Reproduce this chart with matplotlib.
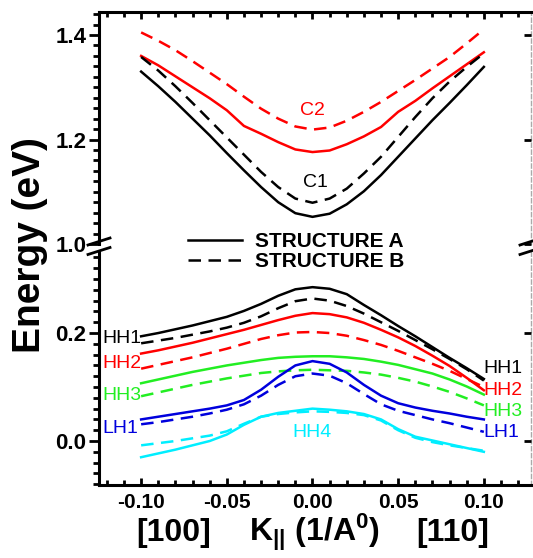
import numpy as np
import matplotlib
matplotlib.use("Agg")
import matplotlib.pyplot as plt
from matplotlib.lines import Line2D
from matplotlib.ticker import MultipleLocator, FixedLocator

plt.rcParams['font.family'] = ['Liberation Sans', 'DejaVu Sans']
plt.rcParams['mathtext.default'] = 'regular'

# in-plane wave vector (1/A), [100] on the left, [110] on the right
k = np.round(np.arange(-0.10, 0.1001, 0.01), 2)

# conduction subbands (eV)
c1_a = [1.330, 1.302, 1.272, 1.240, 1.208, 1.174, 1.141, 1.109, 1.080, 1.059, 1.052,
        1.058, 1.076, 1.101, 1.132, 1.167, 1.202, 1.237, 1.270, 1.304, 1.339]
c1_b = [1.358, 1.332, 1.302, 1.270, 1.237, 1.204, 1.171, 1.138, 1.109, 1.087, 1.079,
        1.087, 1.106, 1.135, 1.167, 1.205, 1.243, 1.279, 1.311, 1.339, 1.365]
c2_a = [1.360, 1.342, 1.321, 1.300, 1.279, 1.256, 1.226, 1.211, 1.195, 1.181, 1.176,
        1.179, 1.191, 1.206, 1.224, 1.253, 1.274, 1.298, 1.321, 1.344, 1.367]
c2_b = [1.405, 1.389, 1.371, 1.350, 1.328, 1.306, 1.282, 1.259, 1.240, 1.225, 1.219,
        1.223, 1.236, 1.253, 1.272, 1.293, 1.314, 1.336, 1.358, 1.384, 1.411]

# valence subbands (eV)
hh1_a = [0.194, 0.200, 0.207, 0.214, 0.222, 0.230, 0.241, 0.254, 0.269, 0.281, 0.285,
         0.282, 0.272, 0.252, 0.233, 0.213, 0.194, 0.174, 0.154, 0.135, 0.115]
hh1_b = [0.181, 0.186, 0.191, 0.197, 0.203, 0.210, 0.219, 0.231, 0.246, 0.259, 0.264,
         0.260, 0.250, 0.236, 0.220, 0.204, 0.187, 0.170, 0.152, 0.133, 0.112]
hh2_a = [0.162, 0.168, 0.175, 0.182, 0.190, 0.198, 0.206, 0.215, 0.224, 0.232, 0.237,
         0.235, 0.229, 0.219, 0.206, 0.192, 0.176, 0.158, 0.139, 0.117, 0.094]
hh2_b = [0.134, 0.141, 0.148, 0.155, 0.163, 0.171, 0.180, 0.189, 0.196, 0.201, 0.202,
         0.200, 0.195, 0.187, 0.178, 0.167, 0.155, 0.143, 0.130, 0.115, 0.100]
hh3_a = [0.107, 0.114, 0.121, 0.128, 0.134, 0.140, 0.145, 0.150, 0.154, 0.156, 0.157,
         0.157, 0.155, 0.152, 0.147, 0.141, 0.133, 0.125, 0.114, 0.101, 0.086]
hh3_b = [0.083, 0.090, 0.097, 0.104, 0.110, 0.116, 0.121, 0.126, 0.129, 0.131, 0.132,
         0.131, 0.130, 0.127, 0.123, 0.117, 0.110, 0.101, 0.091, 0.079, 0.066]
lh1_a = [0.040, 0.045, 0.050, 0.055, 0.060, 0.066, 0.076, 0.095, 0.119, 0.140, 0.148,
         0.143, 0.127, 0.104, 0.084, 0.070, 0.062, 0.056, 0.051, 0.045, 0.040]
lh1_b = [0.031, 0.035, 0.040, 0.045, 0.051, 0.058, 0.068, 0.084, 0.104, 0.120, 0.125,
         0.121, 0.107, 0.087, 0.068, 0.056, 0.048, 0.040, 0.033, 0.025, 0.017]
hh4_a = [-0.030, -0.023, -0.016, -0.008, 0.000, 0.012, 0.030, 0.045, 0.052, 0.056, 0.060,
         0.058, 0.055, 0.050, 0.040, 0.022, 0.008, 0.001, -0.006, -0.013, -0.020]
hh4_b = [-0.008, -0.004, 0.000, 0.005, 0.010, 0.018, 0.032, 0.045, 0.050, 0.053, 0.055,
         0.054, 0.052, 0.048, 0.038, 0.020, 0.006, -0.002, -0.008, -0.013, -0.018]

top_yticks = [1.0, 1.2, 1.4]
bot_yticks = [0.0, 0.2]
kticks = [-0.10, -0.05, 0.0, 0.05, 0.10]

RED = '#ff0000'
GREEN = '#22ee22'
BLUE = '#0000dd'
CYAN = '#00eeff'

LW = 1.8
DASH = (5, 3)

fig = plt.figure(figsize=(5.33, 5.58), dpi=100)
ax_top = fig.add_axes([0.1857, 0.5627, 0.8105, 0.4158])
ax_bot = fig.add_axes([0.1857, 0.1308, 0.8105, 0.4194])

# conduction band panel
ax_top.plot(k, c2_a, color=RED, lw=LW)
ax_top.plot(k, c2_b, color=RED, lw=LW, dashes=DASH)
ax_top.plot(k, c1_a, color='k', lw=LW, label='STRUCTURE A')
ax_top.plot(k, c1_b, color='k', lw=LW, dashes=DASH, label='STRUCTURE B')

# valence band panel
for ya, yb, c in [(hh1_a, hh1_b, 'k'), (hh2_a, hh2_b, RED), (hh3_a, hh3_b, GREEN),
                  (lh1_a, lh1_b, BLUE), (hh4_a, hh4_b, CYAN)]:
    ax_bot.plot(k, ya, color=c, lw=LW)
    ax_bot.plot(k, yb, color=c, lw=LW, dashes=DASH)

xlim = (-0.1246, 0.1275)
ax_top.set_xlim(*xlim)
ax_bot.set_xlim(*xlim)
ax_top.set_ylim(1.0, 1.4441)
ax_bot.set_ylim(-0.0815, 0.352)

for ax in (ax_top, ax_bot):
    ax.xaxis.set_major_locator(MultipleLocator(0.05))
    ax.xaxis.set_minor_locator(MultipleLocator(0.01))
    ax.yaxis.set_minor_locator(MultipleLocator(0.02))
    for s in ('left', 'top', 'bottom'):
        ax.spines[s].set_linewidth(2.2)
    ax.spines['right'].set_color('#aaaaaa')
    ax.spines['right'].set_linestyle((0, (3, 2)))
    ax.spines['right'].set_linewidth(1.0)
    ax.tick_params(axis='y', which='major', direction='out', length=7, width=2,
                   labelsize=16, pad=2)
    ax.tick_params(axis='y', which='minor', direction='out', length=4.5, width=2)
    ax.tick_params(axis='x', which='both', direction='in', width=2)
    ax.tick_params(axis='x', which='major', length=5)
    ax.tick_params(axis='x', which='minor', length=3.5)

ax_top.yaxis.set_major_locator(FixedLocator(top_yticks))
ax_top.set_yticklabels([f'{v:.1f}' for v in top_yticks], fontweight='bold', fontsize=16)
ax_bot.yaxis.set_major_locator(FixedLocator(bot_yticks))
ax_bot.set_yticklabels([f'{v:.1f}' for v in bot_yticks], fontweight='bold', fontsize=16)

ax_top.spines['bottom'].set_visible(False)
ax_top.tick_params(axis='x', which='both', top=True, bottom=False, labelbottom=False)
ax_bot.spines['top'].set_visible(False)
ax_bot.tick_params(axis='x', which='both', top=False, bottom=True, labelsize=15, pad=6)
ax_bot.set_xticks(kticks)
ax_bot.set_xticklabels([f'{v:.2f}' for v in kticks], fontweight='bold')

# inward major ticks on the right-hand side
for ax, yt in ((ax_top, top_yticks), (ax_bot, bot_yticks)):
    tw = ax.twinx()
    tw.set_ylim(ax.get_ylim())
    tw.set_yticks(yt)
    tw.tick_params(axis='y', direction='in', length=5, width=2, labelright=False)
    for s in tw.spines.values():
        s.set_visible(False)

# axis-break marks on both sides
for xf in (99 / 533, 531 / 533):
    for yp in (241.5, 251.0):
        yf = 1 - yp / 558
        fig.add_artist(Line2D([xf - 11 / 533, xf + 11 / 533],
                              [yf - 3.5 / 558, yf + 3.5 / 558],
                              transform=fig.transFigure, color='k', lw=2.0))

# band labels
ax_top.text(0.0, 1.256, 'C2', color=RED, fontsize=14, ha='center', va='center')
ax_top.text(0.002, 1.118, 'C1', color='k', fontsize=14, ha='center', va='center')
ax_bot.text(0.0, 0.015, 'HH4', color=CYAN, fontsize=14, ha='center', va='center')

left_lbl = [('HH1', 'k', 0.190), ('HH2', RED, 0.144), ('HH3', GREEN, 0.085), ('LH1', BLUE, 0.023)]
right_lbl = [('HH1', 'k', 0.135), ('HH2', RED, 0.093), ('HH3', GREEN, 0.054), ('LH1', BLUE, 0.015)]
for name, c, y in left_lbl:
    ax_bot.text(-0.1225, y, name, color=c, fontsize=14, ha='left', va='center')
for name, c, y in right_lbl:
    ax_bot.text(0.0995, y, name, color=c, fontsize=14, ha='left', va='center', clip_on=False)

leg = fig.legend(*ax_top.get_legend_handles_labels(), loc='center',
                 bbox_to_anchor=(0.556, 0.549), frameon=False, handlelength=2.6,
                 handletextpad=0.6, labelspacing=0.05,
                 prop={'weight': 'bold', 'size': 15})

fig.text(0.056, 0.561, 'Energy (eV)', rotation=90, fontsize=28, fontweight='bold',
         ha='center', va='center')
fig.text(0.325, 0.031, '[100]', fontsize=23, fontweight='bold', ha='center', va='baseline')
fig.text(0.589, 0.031, r'K$_{||}$ (1/A$^0$)', fontsize=23, fontweight='bold',
         ha='center', va='baseline')
fig.text(0.850, 0.031, '[110]', fontsize=23, fontweight='bold', ha='center', va='baseline')

fig.savefig('out.png', dpi=100)
